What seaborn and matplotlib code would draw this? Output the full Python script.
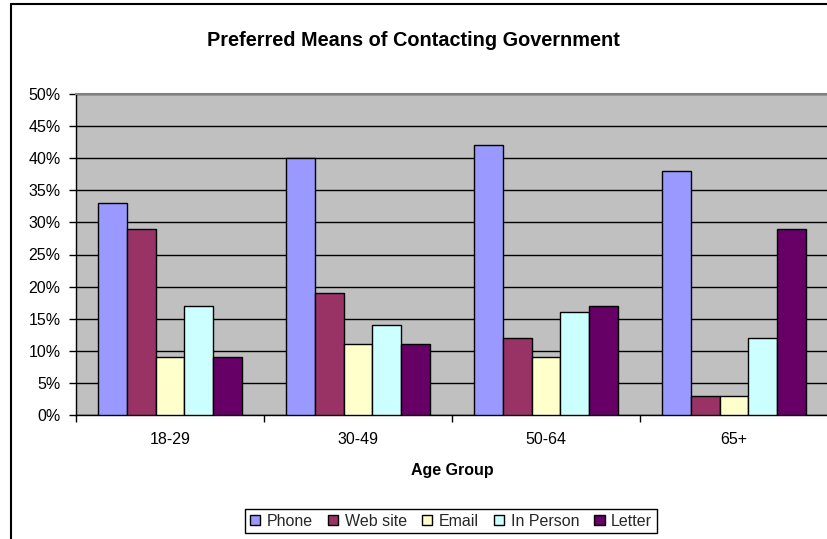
import matplotlib
matplotlib.use("Agg")
import matplotlib.pyplot as plt
from matplotlib.lines import Line2D
from matplotlib.ticker import FixedLocator
import seaborn as sns
import pandas as pd

# Survey results: share of respondents (%) preferring each contact channel
age_groups = ["18-29", "30-49", "50-64", "65+"]
means = ["Phone", "Web site", "Email", "In Person", "Letter"]
phone = [33, 40, 42, 38]
web_site = [29, 19, 12, 3]
email = [9, 11, 9, 3]
in_person = [17, 14, 16, 12]
letter = [9, 11, 17, 29]
y_ticks = [0, 5, 10, 15, 20, 25, 30, 35, 40, 45, 50]

colors = ["#9999FF", "#993366", "#FFFFCC", "#CCFFFF", "#660066"]

series = [phone, web_site, email, in_person, letter]
rows = []
for name, vals in zip(means, series):
    for grp, v in zip(age_groups, vals):
        rows.append({"Age Group": grp, "Means": name, "Share": v})
df = pd.DataFrame(rows)

sns.set_theme(style="white")
plt.rcParams["font.family"] = ["Liberation Sans", "DejaVu Sans"]

W, H = 827, 539
fig = plt.figure(figsize=(W / 100, H / 100), dpi=100)
fig.patch.set_facecolor("white")

left, right, top, bottom = 76, 828, 94, 415
ax = fig.add_axes([left / W, 1 - bottom / H, (right - left) / W, (bottom - top) / H])
ax.set_facecolor("#C0C0C0")

sns.barplot(data=df, x="Age Group", y="Share", hue="Means", order=age_groups,
            hue_order=means, palette=colors, saturation=1, width=5 / 6.5,
            edgecolor="black", linewidth=1.0, ax=ax, zorder=3)

ax.set_xlim(-0.5, len(age_groups) - 0.5)
ax.set_ylim(0, 50)
ax.set_yticks(y_ticks)
ax.set_yticklabels([f"{t}%" for t in y_ticks])
ax.yaxis.grid(True, color="black", linewidth=1.0, zorder=1)
ax.set_axisbelow(True)

for s in ["left", "bottom"]:
    ax.spines[s].set_color("black")
    ax.spines[s].set_linewidth(1.0)
ax.spines["top"].set_color("#808080")
ax.spines["top"].set_linewidth(1.5)
ax.spines["right"].set_visible(False)

fs = 11.5
ax.tick_params(axis="y", which="major", direction="out", length=5, width=1,
               color="black", pad=6, labelsize=fs, labelcolor="black", left=True)
ax.tick_params(axis="x", which="major", length=0, pad=12, labelsize=fs,
               labelcolor="black")
ax.xaxis.set_minor_locator(FixedLocator([i - 0.5 for i in range(len(age_groups) + 1)]))
ax.tick_params(axis="x", which="minor", direction="out", length=5, width=1,
               color="black", bottom=True)

ax.set_xlabel("Age Group", fontsize=fs, fontweight="bold", labelpad=12, color="black")
ax.set_ylabel("")

fig.text(413 / W, 1 - 40 / H, "Preferred Means of Contacting Government",
         ha="center", va="center", fontsize=14.3, fontweight="bold", color="black")

handles, labels = ax.get_legend_handles_labels()
ax.legend(handles, labels, ncol=5, loc="center",
          bbox_to_anchor=(451 / W, 1 - 521 / H), bbox_transform=fig.transFigure,
          frameon=True, fancybox=False, edgecolor="black", framealpha=1,
          fontsize=fs, handlelength=0.65, handleheight=0.65, handletextpad=0.4,
          columnspacing=0.95, borderpad=0.3, borderaxespad=0)
ax.get_legend().get_frame().set_linewidth(1.0)

# outer chart frame (left and top edges)
fig.add_artist(Line2D([10.5 / W, 10.5 / W], [0, 1 - 3.5 / H], transform=fig.transFigure,
                      color="black", linewidth=1.5))
fig.add_artist(Line2D([10.5 / W, 1], [1 - 3.5 / H, 1 - 3.5 / H], transform=fig.transFigure,
                      color="black", linewidth=1.5))

fig.savefig("out.png", dpi=100, facecolor="white")
